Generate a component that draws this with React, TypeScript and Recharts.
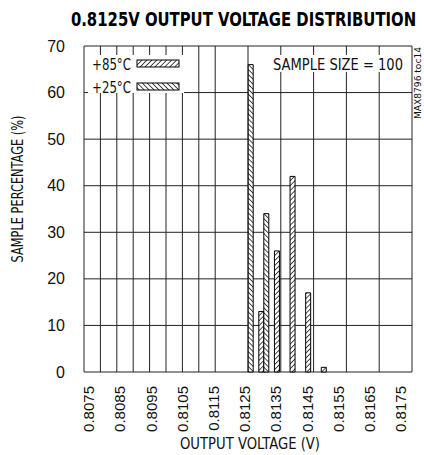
import { BarChart, Bar, XAxis, YAxis, CartesianGrid, ReferenceArea } from "recharts";

const VOLTAGES = [
  "0.8075", "0.8080", "0.8085", "0.8090", "0.8095", "0.8100", "0.8105",
  "0.8110", "0.8115", "0.8120", "0.8125", "0.8130", "0.8135", "0.8140",
  "0.8145", "0.8150", "0.8155", "0.8160", "0.8165", "0.8170", "0.8175",
];
// sample percentage per voltage bin (null = no bar)
const TEMP_85 = [
  null, null, null, null, null, null, null, null, null, null, null,
  13, 26, 42, 17, 1, null, null, null, null, null,
];
const TEMP_25 = [
  null, null, null, null, null, null, null, null, null, null, 66,
  34, null, null, null, null, null, null, null, null, null,
];
const Y_TICKS = [0, 10, 20, 30, 40, 50, 60, 70];
const GRID_TICKS = Array.from({ length: VOLTAGES.length + 1 }, (_, i) => i);
const SERIES = [
  { key: "t85", name: "+85°C", pattern: "hatch85" },
  { key: "t25", name: "+25°C", pattern: "hatch25" },
];

const data = VOLTAGES.map((v, i) => ({ v, t85: TEMP_85[i], t25: TEMP_25[i] }));

const NARROW = "'Liberation Sans Narrow','DejaVu Sans Condensed',sans-serif";
const SANS = "'Liberation Sans',Arial,sans-serif";

const XTick = (props: any) => {
  const { x, y, payload } = props;
  const cx = x - 3;
  return (
    <text
      x={cx}
      y={y}
      dy="0.35em"
      transform={`rotate(-90 ${cx} ${y})`}
      textAnchor="end"
      fontFamily={SANS}
      fontSize={15}
      fill="#111"
    >
      {payload.value}
    </text>
  );
};

const YTick = (props: any) => {
  const { x, y, payload } = props;
  return (
    <text x={x} y={y} dy="0.35em" textAnchor="end" fontFamily={SANS} fontSize={16} fill="#111">
      {payload.value}
    </text>
  );
};

export default function App() {
  return (
    <div style={{ position: "absolute", left: 0, top: 0, width: 424, height: 455, background: "#fff" }}>
      <BarChart
        width={424}
        height={455}
        data={data}
        barSize={5}
        barGap={0}
        margin={{ top: 46, right: 12, bottom: 23, left: 0 }}
      >
        <defs>
          <pattern id="hatch85" patternUnits="userSpaceOnUse" width={3.5} height={3.5} patternTransform="rotate(45)">
            <rect width={3.5} height={3.5} fill="#fff" />
            <line x1={0} y1={0} x2={0} y2={3.5} stroke="#000" strokeWidth={1.4} />
          </pattern>
          <pattern id="hatch25" patternUnits="userSpaceOnUse" width={3.5} height={3.5} patternTransform="rotate(-45)">
            <rect width={3.5} height={3.5} fill="#fff" />
            <line x1={0} y1={0} x2={0} y2={3.5} stroke="#000" strokeWidth={1.4} />
          </pattern>
        </defs>
        <XAxis
          dataKey="v"
          interval={1}
          tick={<XTick />}
          tickLine={false}
          axisLine={false}
          tickSize={0}
          tickMargin={14}
          height={60}
        />
        <XAxis xAxisId="grid" type="number" domain={[0, VOLTAGES.length]} ticks={GRID_TICKS} allowDataOverflow hide />
        <YAxis
          domain={[0, 70]}
          ticks={Y_TICKS}
          width={84}
          tick={<YTick />}
          tickLine={false}
          axisLine={false}
          tickSize={0}
          tickMargin={19}
        />
        <CartesianGrid xAxisId="grid" stroke="#222" strokeWidth={1} />
        {SERIES.map((s) => (
          <Bar
            key={s.key}
            dataKey={s.key}
            name={s.name}
            fill={`url(#${s.pattern})`}
            stroke="#000"
            strokeWidth={1}
            isAnimationActive={false}
          />
        ))}
        <ReferenceArea xAxisId="grid" x1={0} x2={VOLTAGES.length} y1={0} y2={70} fill="none" stroke="#000" strokeWidth={2.5} />
      </BarChart>
      <svg width={424} height={455} style={{ position: "absolute", left: 0, top: 0, pointerEvents: "none" }}>
        <g transform="translate(243.5 26) scale(0.82 1)">
          <text x={0} y={0} textAnchor="middle" fontFamily={NARROW} fontWeight={700} fontSize={19} fill="#000" textLength={421} lengthAdjust="spacingAndGlyphs">
            0.8125V OUTPUT VOLTAGE DISTRIBUTION
          </text>
        </g>
        {/* legend */}
        <rect x={88} y={55} width={96} height={38} fill="#fff" />
        {SERIES.map((s, i) => (
          <g key={s.key} transform={`translate(92 ${i * 23 + 55})`}>
            <text x={0} y={15} fontFamily={NARROW} fontSize={16} fill="#111" textLength={39} lengthAdjust="spacingAndGlyphs">
              {s.name}
            </text>
            <rect x={45} y={5} width={42} height={7} fill={`url(#${s.pattern})`} stroke="#000" strokeWidth={1} />
          </g>
        ))}
        <rect x={270} y={55} width={137} height={17} fill="#fff" />
        <text x={403} y={70} textAnchor="end" fontFamily={NARROW} fontSize={16} fill="#111" textLength={130} lengthAdjust="spacingAndGlyphs">
          SAMPLE SIZE = 100
        </text>
        <text x={421} y={47} transform="rotate(-90 421 47)" textAnchor="end" fontFamily={NARROW} fontSize={8} fill="#111" textLength={72} lengthAdjust="spacingAndGlyphs">
          MAX8796 toc14
        </text>
        <text x={23} y={189} transform="rotate(-90 23 189)" textAnchor="middle" fontFamily={NARROW} fontSize={15} fill="#111" textLength={147} lengthAdjust="spacingAndGlyphs">
          SAMPLE PERCENTAGE (%)
        </text>
        <text x={250} y={449} textAnchor="middle" fontFamily={NARROW} fontSize={16} fill="#111" textLength={140} lengthAdjust="spacingAndGlyphs">
          OUTPUT VOLTAGE (V)
        </text>
      </svg>
    </div>
  );
}
